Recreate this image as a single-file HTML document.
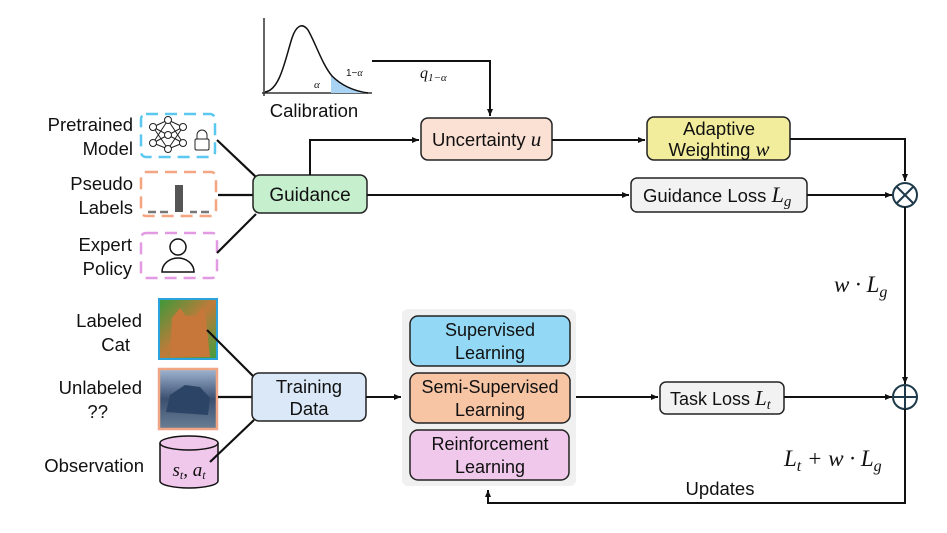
<!DOCTYPE html>
<html><head><meta charset="utf-8"><style>
html,body{margin:0;padding:0;background:#fff;}
svg{display:block;}
text{font-family:"Liberation Sans",sans-serif;fill:#111;}
.m{font-family:"Liberation Serif",serif;font-style:italic;}
</style></head><body>
<svg width="947" height="533" viewBox="0 0 947 533" xmlns="http://www.w3.org/2000/svg">
<defs>
<marker id="a" markerWidth="8" markerHeight="8" refX="7" refY="4" orient="auto" markerUnits="userSpaceOnUse"><path d="M0,1 L7,4 L0,7 z" fill="#111"/></marker>
<linearGradient id="cat" x1="0" y1="0" x2="1" y2="1"><stop offset="0" stop-color="#3a9a3a"/><stop offset="0.5" stop-color="#c07a3a"/><stop offset="1" stop-color="#3e9e3e"/></linearGradient>
<linearGradient id="car" x1="0" y1="0" x2="0" y2="1"><stop offset="0" stop-color="#9fb6d2"/><stop offset="0.5" stop-color="#3b4f70"/><stop offset="1" stop-color="#6a7f95"/></linearGradient>
</defs>

<!-- Calibration chart -->
<line x1="264" y1="18" x2="264" y2="96" stroke="#333" stroke-width="1.5"/>
<line x1="262" y1="93" x2="372" y2="93" stroke="#333" stroke-width="1.5"/>
<path d="M331,93 L331,76 C340,84 352,90 366,93 Z" fill="#a9d3f2"/>
<path d="M265,92 C280,90 285,60 292,38 C296,26 302,22 308,30 C316,44 322,64 332,76 C342,86 354,91 368,93" fill="none" stroke="#111" stroke-width="1.5"/>
<text x="314" y="88" class="m" font-size="11">α</text>
<text x="346" y="76" font-size="10" font-family="Liberation Serif">1−<tspan class="m">α</tspan></text>
<text x="314" y="117" font-size="18.5" text-anchor="middle">Calibration</text>

<path d="M372,61 H490 V116" fill="none" stroke="#111" stroke-width="2" marker-end="url(#a)"/>
<text x="420" y="78" class="m" font-size="16">q<tspan font-size="11" dy="3">1−α</tspan></text>

<!-- left labels -->
<g font-size="18.5" text-anchor="end">
<text x="133" y="131">Pretrained</text><text x="133" y="155">Model</text>
<text x="133" y="190">Pseudo</text><text x="133" y="214">Labels</text>
<text x="132" y="251">Expert</text><text x="132" y="275">Policy</text>
<text x="142" y="327">Labeled</text><text x="130" y="351">Cat</text>
<text x="142" y="394">Unlabeled</text><text x="108" y="418">??</text>
<text x="144" y="472">Observation</text>
</g>

<!-- dashed boxes -->
<rect x="141" y="114" width="74" height="43" rx="5" fill="none" stroke="#5bc8f0" stroke-width="2.5" stroke-dasharray="12,7"/>
<rect x="141" y="172" width="75" height="44" rx="5" fill="none" stroke="#f4a582" stroke-width="2.5" stroke-dasharray="12,7"/>
<rect x="141" y="233" width="76" height="45" rx="5" fill="none" stroke="#e29ae2" stroke-width="2.5" stroke-dasharray="12,7"/>
<!-- NN icon -->
<g stroke="#222" stroke-width="1" fill="#fff">
<line x1="153" y1="127" x2="168" y2="120"/><line x1="153" y1="127" x2="168" y2="135"/><line x1="153" y1="127" x2="168" y2="149"/>
<line x1="153" y1="143" x2="168" y2="120"/><line x1="153" y1="143" x2="168" y2="135"/><line x1="153" y1="143" x2="168" y2="149"/>
<line x1="183" y1="127" x2="168" y2="120"/><line x1="183" y1="127" x2="168" y2="135"/><line x1="183" y1="127" x2="168" y2="149"/>
<line x1="183" y1="143" x2="168" y2="120"/><line x1="183" y1="143" x2="168" y2="135"/><line x1="183" y1="143" x2="168" y2="149"/>
<circle cx="153" cy="127" r="3.5"/><circle cx="153" cy="143" r="3.5"/>
<circle cx="168" cy="120" r="3.5"/><circle cx="168" cy="135" r="3.5"/><circle cx="168" cy="149" r="3.5"/>
<circle cx="183" cy="127" r="3.5"/><circle cx="183" cy="143" r="3.5"/>
<path d="M197,139 v-4 a5,5 0 0 1 10,0 v4" fill="none"/>
<rect x="195" y="139" width="14" height="11" rx="1.5"/>
</g>
<!-- pseudo label bars -->
<rect x="175" y="185" width="8" height="27" fill="#555"/>
<g stroke="#777" stroke-width="2.5"><line x1="148" y1="212" x2="156" y2="212"/><line x1="160" y1="212" x2="168" y2="212"/><line x1="190" y1="212" x2="197" y2="212"/><line x1="201" y1="212" x2="209" y2="212"/></g>
<!-- person -->
<circle cx="178" cy="247" r="8" fill="#fff" stroke="#111" stroke-width="1.5"/>
<path d="M162,272 a16,14 0 0 1 32,0 Z" fill="#fff" stroke="#111" stroke-width="1.5"/>

<!-- images -->
<rect x="159" y="299" width="58" height="60" fill="url(#cat)" stroke="#2aa3dc" stroke-width="2"/>
<path d="M170,357 L172,318 L180,308 L186,316 L196,316 L203,307 L206,320 L210,357 Z" fill="#c8773a"/>
<rect x="159" y="369" width="58" height="60" fill="url(#car)" stroke="#f0a584" stroke-width="2.5"/>
<path d="M166,412 L170,395 L185,385 L200,387 L210,398 L208,415 Z" fill="#2c4466"/>
<!-- cylinder -->
<path d="M160,443 V481 A29,7 0 0 0 218,481 V443" fill="#f0c8ec" stroke="#111" stroke-width="1.5"/>
<ellipse cx="189" cy="443" rx="29" ry="7" fill="#f0c8ec" stroke="#111" stroke-width="1.5"/>
<text x="189" y="476" class="m" font-size="19" text-anchor="middle">s<tspan font-size="12" dy="3">t</tspan><tspan dy="-3">, a</tspan><tspan font-size="12" dy="3">t</tspan></text>

<!-- connectors left -->
<g stroke="#111" stroke-width="2.2" fill="none">
<line x1="217" y1="140" x2="256" y2="177"/>
<line x1="218" y1="195" x2="254" y2="195"/>
<line x1="217" y1="253" x2="256" y2="214"/>
<line x1="207" y1="330" x2="253" y2="376"/>
<line x1="218" y1="397" x2="252" y2="397"/>
<line x1="210" y1="462" x2="254" y2="420"/>
</g>

<!-- Guidance -->
<rect x="253" y="175" width="114" height="38" rx="7" fill="#c6efce" stroke="#222" stroke-width="1.5"/>
<text x="310" y="201" font-size="19" text-anchor="middle">Guidance</text>
<path d="M310,175 V140 H419" fill="none" stroke="#111" stroke-width="2" marker-end="url(#a)"/>
<path d="M367,195 H629" fill="none" stroke="#111" stroke-width="2" marker-end="url(#a)"/>

<!-- Uncertainty -->
<rect x="421" y="118" width="131" height="42" rx="7" fill="#fbe0d4" stroke="#222" stroke-width="1.5"/>
<text x="432" y="146" font-size="18.5">Uncertainty <tspan class="m" font-size="21">u</tspan></text>
<path d="M552,140 H645" fill="none" stroke="#111" stroke-width="2" marker-end="url(#a)"/>

<!-- Adaptive -->
<rect x="647" y="117" width="143" height="43" rx="7" fill="#f2ed9c" stroke="#222" stroke-width="1.5"/>
<text x="719" y="135" font-size="18.5" text-anchor="middle">Adaptive</text>
<text x="719" y="156" font-size="18.5" text-anchor="middle">Weighting <tspan class="m" font-size="21">w</tspan></text>
<path d="M790,139 H905 V181" fill="none" stroke="#111" stroke-width="2" marker-end="url(#a)"/>

<!-- Guidance loss -->
<rect x="631" y="178" width="176" height="34" rx="6" fill="#f2f2f2" stroke="#222" stroke-width="1.5"/>
<text x="643" y="202" font-size="18.5">Guidance Loss <tspan class="m" font-size="22">L</tspan><tspan class="m" font-size="15" dy="4">g</tspan></text>
<path d="M807,195 H892" fill="none" stroke="#111" stroke-width="2" marker-end="url(#a)"/>

<!-- otimes -->
<circle cx="905" cy="195" r="12" fill="#fff" stroke="#1e3a4a" stroke-width="2"/>
<line x1="897" y1="187" x2="913" y2="203" stroke="#1e3a4a" stroke-width="2"/>
<line x1="913" y1="187" x2="897" y2="203" stroke="#1e3a4a" stroke-width="2"/>
<path d="M905,207 V384" fill="none" stroke="#111" stroke-width="2" marker-end="url(#a)"/>
<text x="834" y="292" class="m" font-size="23">w · L<tspan font-size="16" dy="5">g</tspan></text>

<!-- Training data -->
<rect x="252" y="373" width="114" height="48" rx="7" fill="#dae8f7" stroke="#222" stroke-width="1.5"/>
<text x="309" y="393" font-size="18.5" text-anchor="middle">Training</text>
<text x="309" y="415" font-size="18.5" text-anchor="middle">Data</text>
<path d="M366,397 H401" fill="none" stroke="#111" stroke-width="2" marker-end="url(#a)"/>

<!-- panel -->
<rect x="402" y="309" width="174" height="177" rx="6" fill="#f0f0f0"/>
<rect x="410" y="316" width="160" height="50" rx="8" fill="#93d8f4" stroke="#222" stroke-width="1.5"/>
<text x="490" y="336" font-size="18" text-anchor="middle">Supervised</text>
<text x="490" y="359" font-size="18" text-anchor="middle">Learning</text>
<rect x="410" y="373" width="160" height="50" rx="8" fill="#f7c4a4" stroke="#222" stroke-width="1.5"/>
<text x="490" y="393" font-size="18" text-anchor="middle">Semi-Supervised</text>
<text x="490" y="416" font-size="18" text-anchor="middle">Learning</text>
<rect x="410" y="430" width="159" height="50" rx="8" fill="#f0c8ec" stroke="#222" stroke-width="1.5"/>
<text x="490" y="450" font-size="18" text-anchor="middle">Reinforcement</text>
<text x="490" y="473" font-size="18" text-anchor="middle">Learning</text>

<path d="M576,397 H658" fill="none" stroke="#111" stroke-width="2" marker-end="url(#a)"/>
<rect x="660" y="382" width="124" height="32" rx="6" fill="#f2f2f2" stroke="#222" stroke-width="1.5"/>
<text x="670" y="405" font-size="18">Task Loss <tspan class="m" font-size="21">L</tspan><tspan class="m" font-size="14" dy="4">t</tspan></text>
<path d="M784,397 H892" fill="none" stroke="#111" stroke-width="2" marker-end="url(#a)"/>

<!-- oplus -->
<circle cx="905" cy="397" r="12" fill="#fff" stroke="#1e3a4a" stroke-width="2"/>
<line x1="893" y1="397" x2="917" y2="397" stroke="#1e3a4a" stroke-width="2"/>
<line x1="905" y1="385" x2="905" y2="409" stroke="#1e3a4a" stroke-width="2"/>
<path d="M905,409 V503 H488 V490" fill="none" stroke="#111" stroke-width="2" marker-end="url(#a)"/>
<text x="784" y="466" class="m" font-size="23">L<tspan font-size="16" dy="5">t</tspan><tspan dy="-5"> + w · L</tspan><tspan font-size="16" dy="5">g</tspan></text>
<text x="720" y="495" font-size="18.5" text-anchor="middle">Updates</text>
</svg>
</body></html>
